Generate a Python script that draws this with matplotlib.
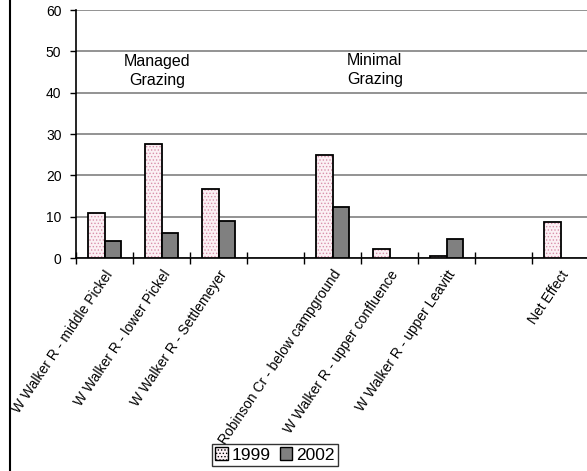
import numpy as np
import matplotlib
matplotlib.use('Agg')
import matplotlib.pyplot as plt
import matplotlib.transforms as mtransforms
from matplotlib.lines import Line2D
from matplotlib.patches import Patch

plt.rcParams['font.family'] = ['Liberation Sans', 'DejaVu Sans']
plt.rcParams['hatch.linewidth'] = 0.6

# site categories (blank slots separate the grazing groups)
sites = ['W Walker R - middle Pickel', 'W Walker R - lower Pickel',
         'W Walker R - Settlemeyer', '',
         'Robinson Cr - below campground', 'W Walker R - upper confluence',
         'W Walker R - upper Leavitt', '', 'Net Effect']
vals_1999 = [11.0, 27.7, 16.8, np.nan, 25.0, 2.1, 0.5, np.nan, 8.7]
vals_2002 = [4.2, 6.1, 8.9, np.nan, 12.3, np.nan, 4.5, np.nan, np.nan]
years = ['1999', '2002']

fig = plt.figure(figsize=(5.87, 4.71), dpi=100)
ax = fig.add_axes([76/587, 213/471, 513/587, 248/471])

x = np.arange(len(sites))
w = 0.29
# dotted pink fill for 1999, then outline on top
ax.bar(x - w/2, vals_1999, w, color='#fbf0f4', edgecolor='#d890aa',
       hatch='.....', linewidth=0, zorder=3)
ax.bar(x - w/2, vals_1999, w, fill=False, edgecolor='black', linewidth=1.3, zorder=4)
ax.bar(x + w/2, vals_2002, w, color='#808080', edgecolor='black', linewidth=1.3, zorder=4)

ax.set_xlim(-0.5, 8.5)
ax.set_ylim(0, 60)
ax.set_yticks(range(0, 61, 10))
ax.yaxis.grid(True, color='#808080', linewidth=1.2)
ax.set_axisbelow(True)
for s in ['top', 'right']:
    ax.spines[s].set_visible(False)
ax.spines['left'].set_linewidth(1.2)
ax.spines['bottom'].set_linewidth(1.2)
ax.tick_params(axis='y', length=4, width=1, labelsize=10, pad=6.5)

ax.set_xticks(x)
ax.set_xticklabels(sites, rotation=56, ha='right', va='top',
                   rotation_mode='anchor', fontsize=10)
shift = mtransforms.ScaledTranslation(-5/100, 0, fig.dpi_scale_trans)
for lab in ax.get_xticklabels():
    lab.set_transform(lab.get_transform() + shift)
ax.set_xticks(np.arange(-0.5, 9, 1), minor=True)
ax.tick_params(axis='x', which='major', length=0, pad=7)
ax.tick_params(axis='x', which='minor', direction='inout', length=9, width=1)

ax.text(0.92, 45.2, 'Managed\nGrazing', ha='center', va='center',
        multialignment='center', fontsize=11.5, linespacing=1.3)
ax.text(4.25, 45.5, 'Minimal\nGrazing', ha='left', va='center',
        multialignment='left', fontsize=11.5, linespacing=1.3)

handles = [Patch(facecolor='#fbf0f4', edgecolor='black', hatch='.....'),
           Patch(facecolor='#808080', edgecolor='black')]
leg = fig.legend(handles, years, loc='center', bbox_to_anchor=(275/587, 16/471),
                 ncol=2, fontsize=12.5, frameon=True, fancybox=False,
                 handlelength=0.7, handleheight=0.7, handletextpad=0.25,
                 columnspacing=0.5, borderpad=0.2, borderaxespad=0)
leg.get_frame().set_edgecolor('black')
leg.get_frame().set_linewidth(1)

# chart frame edge on the left
fig.add_artist(Line2D([10/587, 10/587], [0, 1], color='black', linewidth=1.5))

fig.savefig('out.png', dpi=100)
